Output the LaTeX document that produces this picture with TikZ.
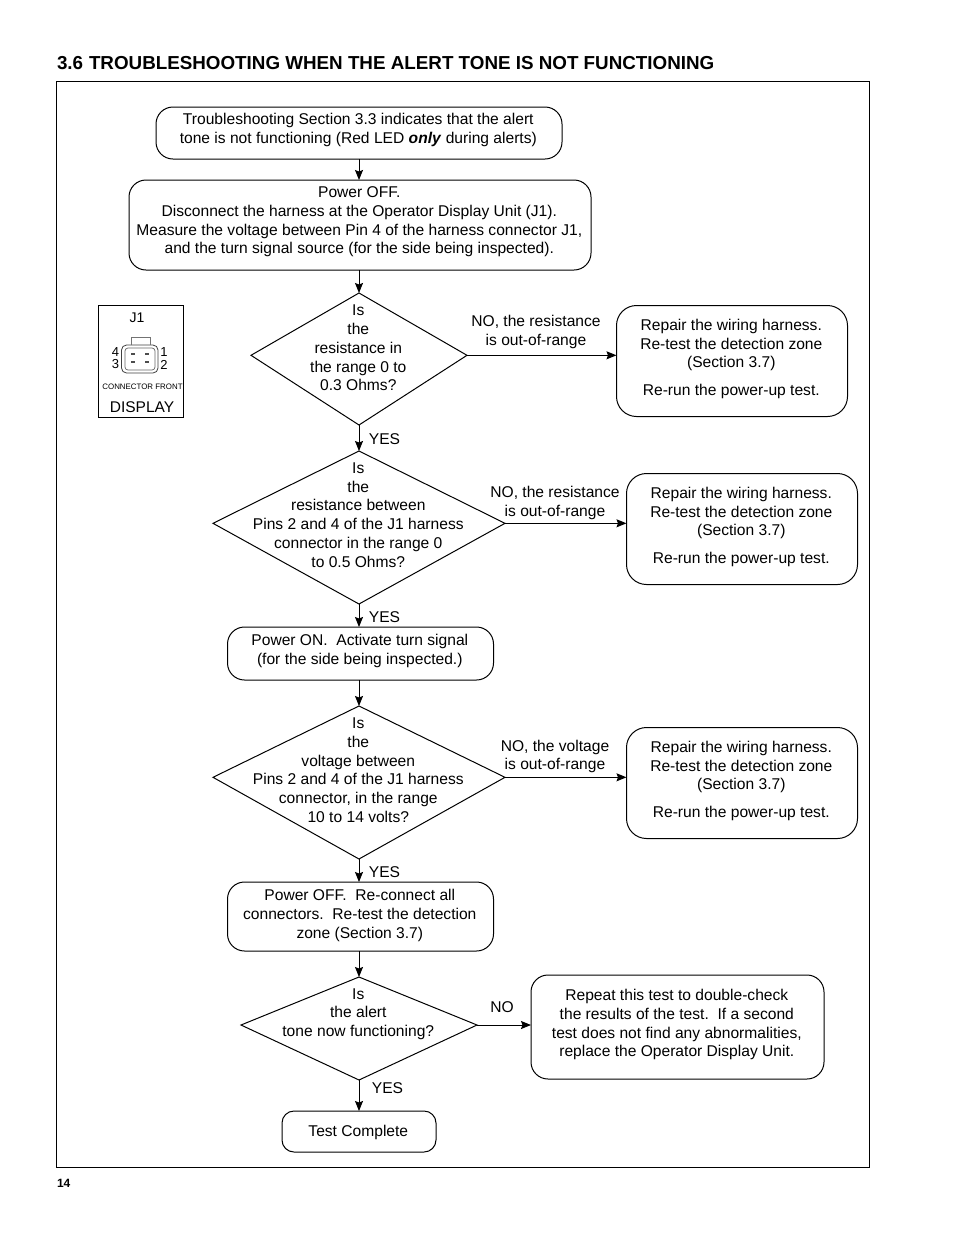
\documentclass[tikz,border=0pt]{standalone}
\usepackage{fontspec}
\setmainfont{Liberation Sans}
\usetikzlibrary{arrows.meta}
\newcommand{\TT}[2]{\makebox[0pt][c]{\hspace*{-1.4pt}\raisebox{\dimexpr #1 pt-5.2pt\relax}[0pt][0pt]{\begin{tabular}{@{}c@{}}#2\end{tabular}}}}
% \kite{name}{cx}{top}{mid}{bottom}{half width}{text}
\newcommand{\kite}[7]{%
  \pgfmathsetmacro{\kw}{2*#6}\pgfmathsetmacro{\kh}{#5-#3}\pgfmathsetmacro{\kc}{(#3+#5)/2}%
  \node[decisbox,minimum width=\kw pt,minimum height=\kh pt] (#1) at (#2,\kc) {#7};
  \coordinate (#1e) at (#2+#6,#4);
  \coordinate (#1w) at (#2-#6,#4);
  \draw[line width=1pt,line join=miter] (#1.north) -- (#1e) -- (#1.south) -- (#1w) -- cycle;
}
\tikzset{
  x=1pt,y=-1pt,
  every node/.style={font=\fontsize{15.6}{18.7}\selectfont,text=black,inner sep=0pt,outer sep=0pt},
  proc/.style={draw,line width=1pt,rounded corners=17pt,rectangle},
  decisbox/.style={rectangle},
  lab/.style={align=center},
  flow/.style={line width=1pt,-{Stealth[length=10pt,width=8pt,inset=1.5pt]}},
  frame/.style={draw,line width=0.9pt,rectangle},
}
\begin{document}
\begin{tikzpicture}
\useasboundingbox (0,0) rectangle (954,1235);
\fill[white] (0,0) rectangle (954,1235);
\node[anchor=base west,font=\fontsize{18.8}{20}\selectfont\bfseries] (title) at (57,69) {3.6};
\node[anchor=base west,font=\fontsize{18.8}{20}\selectfont\bfseries] (title2) at (89,69) {TROUBLESHOOTING WHEN THE ALERT TONE IS NOT FUNCTIONING};
\node[frame,minimum width=812.5pt,minimum height=1085.5pt] (page) at (462.75,624.25) {};
\node[anchor=base west,font=\fontsize{12}{14}\selectfont\bfseries] (pg) at (57,1187) {14};

\node[proc,minimum width=406pt,minimum height=52pt] (b1) at (359,133) {\TT{4}{Troubleshooting Section 3.3 indicates that the alert\\tone is not functioning (Red LED \textbf{\textit{only}} during alerts)}};
\node[proc,minimum width=462pt,minimum height=90pt] (b2) at (360,225) {\TT{4.5}{Power OFF.\\Disconnect the harness at the Operator Display Unit (J1).\\Measure the voltage between Pin 4 of the harness connector J1,\\and the turn signal source (for the side being inspected).}};
\kite{d1}{359}{293}{355.3}{425}{108}{\TT{11}{Is\\the\\resistance in\\the range 0 to\\0.3 Ohms?}}
\node[proc,rounded corners=20pt,minimum width=231pt,minimum height=111pt] (r1) at (732,361) {\TT{3.5}{Repair the wiring harness.\\Re-test the detection zone\\(Section 3.7)\\[8.5pt]Re-run the power-up test.}};
\kite{d2}{359}{451}{523.3}{604}{146}{\TT{12.5}{Is\\the\\resistance between\\Pins 2 and 4 of the J1 harness\\connector in the range 0\\to 0.5 Ohms?}}
\node[proc,rounded corners=20pt,minimum width=231pt,minimum height=111pt] (r2) at (742,529) {\TT{3.5}{Repair the wiring harness.\\Re-test the detection zone\\(Section 3.7)\\[8.5pt]Re-run the power-up test.}};
\node[proc,minimum width=266pt,minimum height=53pt] (b3) at (360.5,653.5) {\TT{4}{Power ON.\ \ Activate turn signal\\(for the side being inspected.)}};
\kite{d3}{359}{706}{777.3}{859}{146}{\TT{12.5}{Is\\the\\voltage between\\Pins 2 and 4 of the J1 harness\\connector, in the range\\10 to 14 volts?}}
\node[proc,rounded corners=20pt,minimum width=231pt,minimum height=111pt] (r3) at (742,783) {\TT{3.5}{Repair the wiring harness.\\Re-test the detection zone\\(Section 3.7)\\[8.5pt]Re-run the power-up test.}};
\node[proc,minimum width=266pt,minimum height=69pt] (b4) at (360.5,916.5) {\TT{2.5}{Power OFF.\ \ Re-connect all\\connectors.\ \ Re-test the detection\\zone (Section 3.7)}};
\kite{d4}{359}{977}{1025}{1080}{118}{\TT{16}{Is\\the alert\\tone now functioning?}}
\node[proc,minimum width=293pt,minimum height=104pt] (r4) at (677.5,1027) {\TT{3.5}{Repeat this test to double-check\\the results of the test.\ \ If a second\\test does not find any abnormalities,\\replace the Operator Display Unit.}};
\node[proc,rounded corners=12pt,minimum width=154pt,minimum height=41pt] (b5) at (359,1131.5) {\TT{0}{Test Complete}};

\draw[flow] (b1.south) -- (b1.south |- b2.north);
\draw[flow] (b2.south -| d1.north) -- (d1.north);
\draw[flow] (d1.south) -- (d2.north);
\draw[flow] (d2.south) -- (d2.south |- b3.north);
\draw[flow] (d2.south |- b3.south) -- (d3.north);
\draw[flow] (d3.south) -- (d3.south |- b4.north);
\draw[flow] (d3.south |- b4.south) -- (d4.north);
\draw[flow] (d4.south) -- (b5.north);
\draw[flow] (d1e) -- (d1e -| r1.west);
\draw[flow] (d2e) -- (d2e -| r2.west);
\draw[flow] (d3e) -- (d3e -| r3.west);
\draw[flow] (d4e) -- (d4e -| r4.west);

\node[lab] (n1) at (536,332) {NO, the resistance\\is out-of-range};
\node[lab] (n2) at (555,503) {NO, the resistance\\is out-of-range};
\node[lab] (n3) at (555,756.5) {NO, the voltage\\is out-of-range};
\node[lab] (n4) at (502,1007) {NO};
\node[lab] (y1) at (384.5,439) {YES};
\node[lab] (y2) at (384.5,617) {YES};
\node[lab] (y3) at (384.5,872) {YES};
\node[lab] (y4) at (387.5,1088) {YES};

% connector picture
\node[frame,minimum width=85pt,minimum height=112pt] (conn) at (141.25,361) {};
\node[font=\fontsize{14}{15}\selectfont] (j1) at (137,317.5) {J1};
\draw[line width=0.8pt,rounded corners=5pt,black!75] (121.5,345) rectangle (158,373);
\draw[line width=0.7pt,rounded corners=3pt,black!60] (125,348) rectangle (155,370);
\draw[line width=0.7pt,black!55] (131,345) -- (131,337.5) -- (150,337.5) -- (150,345);
\node[font=\fontsize{13}{14}\selectfont] (p4) at (115.5,352) {4};
\node[font=\fontsize{13}{14}\selectfont] (p3) at (115.5,364.5) {3};
\node[font=\fontsize{13}{14}\selectfont] (p1) at (164,352) {1};
\node[font=\fontsize{13}{14}\selectfont] (p2) at (164,364.5) {2};
\foreach \px/\py in {133/354,147/354,133/362,147/362}{\fill[black!70] (\px-2,\py-0.7) rectangle (\px+2,\py+0.7);}
\node[font=\fontsize{7.9}{10}\selectfont] (cf) at (142.5,386.5) {CONNECTOR FRONT};
\node[font=\fontsize{15.5}{16}\selectfont] (disp) at (142,407) {DISPLAY};
\end{tikzpicture}
\end{document}
